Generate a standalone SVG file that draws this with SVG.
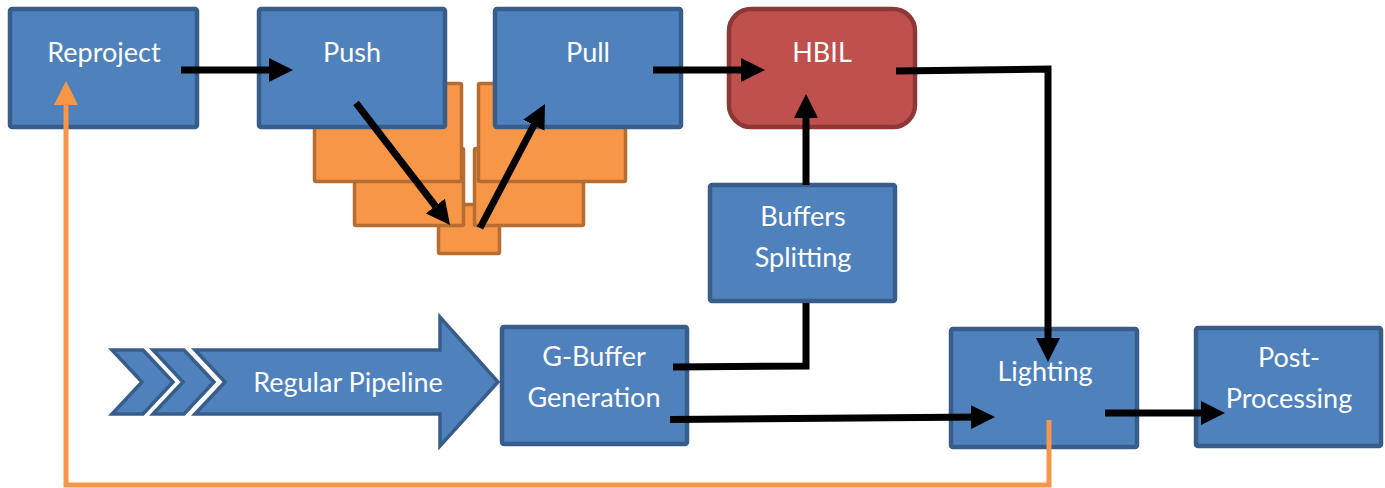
<svg xmlns="http://www.w3.org/2000/svg" width="1385" height="488" viewBox="0 0 1385 488">
  <style>
    .box { fill: #4f81bd; stroke: #385d8a; stroke-width: 4.5; }
    .hot { fill: #c0504d; stroke: #8c3836; stroke-width: 4.5; }
    .lvl { fill: #f79646; stroke: #b66d31; stroke-width: 3.5; }
    .shape { fill: #4f81bd; stroke: #385d8a; stroke-width: 3.5; stroke-linejoin: miter; }
    .lbl { fill: #ffffff; font-family: Lato, "Open Sans", sans-serif; font-size: 27px; text-anchor: middle; }
    .wire { fill: none; stroke: #000000; stroke-width: 7; stroke-linejoin: miter; }
    .back { fill: none; stroke: #f79646; stroke-width: 5; stroke-linejoin: miter; }
  </style>
  <defs>
    <marker id="head" viewBox="0 0 24 24" markerWidth="24" markerHeight="24" refX="12" refY="12" orient="auto" markerUnits="userSpaceOnUse">
      <path d="M0,0 L24,12 L0,24 Z" fill="#000000"/>
    </marker>
    <marker id="headOrange" viewBox="0 0 24 24" markerWidth="24" markerHeight="24" refX="12" refY="12" orient="auto" markerUnits="userSpaceOnUse">
      <path d="M0,0 L24,12 L0,24 Z" fill="#f79646"/>
    </marker>
  </defs>

  <!-- mip pyramid levels behind Push / Pull -->
  <g id="pyramid">
    <rect class="lvl" x="438.5" y="204.5" width="61" height="49" rx="1.5"/>
    <rect class="lvl" x="354.5" y="148.5" width="109" height="77" rx="1.5"/>
    <rect class="lvl" x="474.5" y="148.5" width="109" height="77" rx="1.5"/>
    <rect class="lvl" x="314.5" y="83.5" width="147" height="98" rx="1.5"/>
    <rect class="lvl" x="478.5" y="83.5" width="147" height="98" rx="1.5"/>
  </g>

  <g id="reproject">
    <rect class="box" x="10" y="9" width="187" height="118" rx="2"/>
    <text class="lbl" x="104" y="62">Reproject</text>
  </g>
  <g id="push">
    <rect class="box" x="259" y="9" width="186" height="118" rx="2"/>
    <text class="lbl" x="352" y="62">Push</text>
  </g>
  <g id="pull">
    <rect class="box" x="495" y="9" width="186" height="118" rx="2"/>
    <text class="lbl" x="588" y="62">Pull</text>
  </g>
  <g id="hbil">
    <rect class="hot" x="729" y="9" width="186" height="118" rx="22"/>
    <text class="lbl" x="822" y="62">HBIL</text>
  </g>
  <g id="buffers-splitting">
    <rect class="box" x="710" y="185" width="185" height="116" rx="2"/>
    <text class="lbl" x="803" y="226">Buffers</text>
    <text class="lbl" x="803" y="267">Splitting</text>
  </g>
  <g id="gbuffer">
    <rect class="box" x="502" y="327" width="185" height="117" rx="2"/>
    <text class="lbl" x="594" y="366">G-Buffer</text>
    <text class="lbl" x="594" y="407">Generation</text>
  </g>
  <g id="lighting">
    <rect class="box" x="951" y="329" width="186" height="118" rx="2"/>
    <text class="lbl" x="1045" y="381">Lighting</text>
  </g>
  <g id="post-processing">
    <rect class="box" x="1196" y="328" width="185" height="118" rx="2"/>
    <text class="lbl" x="1289" y="367">Post-</text>
    <text class="lbl" x="1289" y="408">Processing</text>
  </g>

  <!-- chevron arrow leading into the G-buffer pass -->
  <g id="regular-pipeline">
    <path class="shape" d="M112,350 L143,350 L173,382 L143,414 L112,414 L142,382 Z"/>
    <path class="shape" d="M153,350 L184,350 L214,382 L184,414 L153,414 L183,382 Z"/>
    <path class="shape" d="M195,350 L440,350 L440,317 L498,382 L440,446 L440,414 L195,414 L225,382 Z"/>
    <text class="lbl" x="348" y="392">Regular Pipeline</text>
  </g>

  <g id="connectors">
    <path class="wire" d="M181,70 L281,70" marker-end="url(#head)"/>
    <path class="wire" d="M356,103 L442.7,215.5" marker-end="url(#head)"/>
    <path class="wire" d="M480,228 L539.4,114.6" marker-end="url(#head)"/>
    <path class="wire" d="M653,70 L753,70" marker-end="url(#head)"/>
    <path class="wire" d="M896,71 L1048,69 L1048,350" marker-end="url(#head)"/>
    <path class="wire" d="M806,185 L806,106" marker-end="url(#head)"/>
    <path class="wire" d="M673,367 L806,366 L806,303"/>
    <path class="wire" d="M670,419.5 L983,417" marker-end="url(#head)"/>
    <path class="wire" d="M1105,413 L1213,413" marker-end="url(#head)"/>
    <path class="back" d="M1049,420 L1049,485 L66,485 L66,93" marker-end="url(#headOrange)"/>
  </g>
</svg>
